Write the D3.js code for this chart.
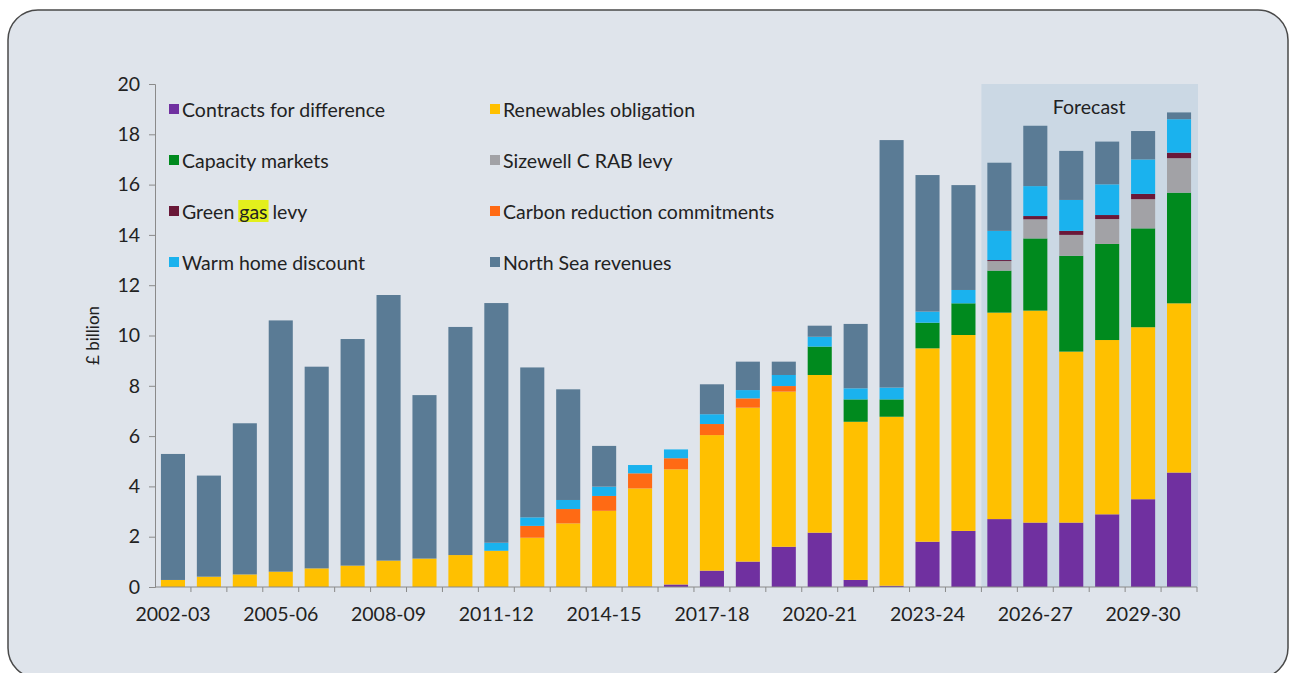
<!DOCTYPE html>
<html>
<head>
<meta charset="utf-8">
<script src="https://cdn.jsdelivr.net/npm/d3@7"></script>
<style>
  html, body { margin: 0; padding: 0; background: #ffffff; }
  svg { display: block; }
  text { font-family: "Lato", "Noto Sans", sans-serif; fill: #222222; }
</style>
</head>
<body>
<svg id="chart" width="1290" height="673"></svg>
<script>
// Financial years
const years = [
  "2002-03","2003-04","2004-05","2005-06","2006-07","2007-08","2008-09","2009-10",
  "2010-11","2011-12","2012-13","2013-14","2014-15","2015-16","2016-17","2017-18",
  "2018-19","2019-20","2020-21","2021-22","2022-23","2023-24","2024-25","2025-26",
  "2026-27","2027-28","2028-29","2029-30","2030-31"
];
const tickYears = ["2002-03","2005-06","2008-09","2011-12","2014-15","2017-18","2020-21","2023-24","2026-27","2029-30"];
const forecastFrom = "2025-26";

// £ billion, one value per year
const contractsForDifference = [0,0,0,0,0,0,0,0,0,0,0,0,0,0.02,0.10,0.65,1.01,1.60,2.16,0.28,0.05,1.80,2.23,2.70,2.56,2.56,2.89,3.49,4.55];
const renewablesObligation   = [0.28,0.41,0.50,0.61,0.74,0.85,1.05,1.13,1.27,1.44,1.96,2.53,3.03,3.90,4.58,5.39,6.12,6.17,6.27,6.29,6.72,7.69,7.79,8.21,8.43,6.80,6.93,6.84,6.73];
const capacityMarkets        = [0,0,0,0,0,0,0,0,0,0,0,0,0,0,0,0,0,0,1.13,0.89,0.69,1.02,1.26,1.67,2.87,3.81,3.82,3.93,4.40];
const sizewellCRabLevy       = [0,0,0,0,0,0,0,0,0,0,0,0,0,0,0,0,0,0,0,0,0,0,0,0.38,0.76,0.83,0.99,1.16,1.37];
const greenGasLevy           = [0,0,0,0,0,0,0,0,0,0,0,0,0,0,0,0,0,0,0,0,0,0,0,0.04,0.13,0.16,0.16,0.21,0.22];
const carbonReduction        = [0,0,0,0,0,0,0,0,0,0,0.47,0.57,0.59,0.60,0.44,0.44,0.37,0.22,0,0,0,0,0,0,0,0,0,0,0];
const warmHomeDiscount       = [0,0,0,0,0,0,0,0,0,0.32,0.34,0.36,0.37,0.33,0.35,0.39,0.33,0.44,0.39,0.44,0.47,0.44,0.53,1.16,1.19,1.23,1.22,1.37,1.33];
const northSeaRevenues       = [5.01,4.02,6.01,9.99,8.02,9.01,10.56,6.50,9.07,9.53,5.96,4.40,1.62,0,0,1.19,1.13,0.53,0.44,2.56,9.84,5.43,4.17,2.71,2.40,1.95,1.70,1.13,0.27];

const yTicks = [0,2,4,6,8,10,12,14,16,18,20];

// Stack order, bottom to top
const series = [
  { key: "cfd",  name: "Contracts for difference",    values: contractsForDifference, color: "#7030a0" },
  { key: "ro",   name: "Renewables obligation",       values: renewablesObligation,   color: "#ffc000" },
  { key: "cm",   name: "Capacity markets",            values: capacityMarkets,        color: "#008a1e" },
  { key: "szc",  name: "Sizewell C RAB levy",         values: sizewellCRabLevy,       color: "#a2a2a6" },
  { key: "ggl",  name: "Green gas levy",              values: greenGasLevy,           color: "#6a1838" },
  { key: "crc",  name: "Carbon reduction commitments",values: carbonReduction,        color: "#ff6a14" },
  { key: "whd",  name: "Warm home discount",          values: warmHomeDiscount,       color: "#1ab2ee" },
  { key: "ns",   name: "North Sea revenues",          values: northSeaRevenues,       color: "#5a7b95" }
];

// Legend layout: two columns, four rows
const legendLeft  = ["cfd","cm","ggl","whd"];
const legendRight = ["ro","szc","crc","ns"];

const FONT = "19.5px";

const svg = d3.select("#chart");

// Rounded panel
svg.append("rect")
  .attr("x", 8).attr("y", 10)
  .attr("width", 1280).attr("height", 668)
  .attr("rx", 30).attr("ry", 30)
  .attr("fill", "#dfe4eb")
  .attr("stroke", "#4a4a4a")
  .attr("stroke-width", 1.5);

const margin = { left: 155, right: 1197, top: 84, bottom: 587 };

const x = d3.scaleBand()
  .domain(years)
  .range([margin.left, margin.right])
  .paddingInner(0.33)
  .paddingOuter(0.165);

const y = d3.scaleLinear()
  .domain([0, 20])
  .range([margin.bottom, margin.top]);

// Forecast shading
const fx0 = x(forecastFrom) - x.step() * x.paddingInner() / 2;
svg.append("rect")
  .attr("x", fx0)
  .attr("y", y(20))
  .attr("width", margin.right + 1 - fx0)
  .attr("height", y(0) - y(20))
  .attr("fill", "#cbd8e4");

svg.append("text")
  .attr("x", (fx0 + margin.right) / 2)
  .attr("y", y(19.1))
  .attr("text-anchor", "middle")
  .attr("dominant-baseline", "central")
  .style("font-size", FONT)
  .text("Forecast");

// Stacked bars
const rows = years.map((yr, i) => {
  const r = { year: yr };
  series.forEach(s => { r[s.key] = s.values[i]; });
  return r;
});
const stack = d3.stack().keys(series.map(s => s.key));
const layers = stack(rows);

const g = svg.append("g");
layers.forEach((layer, li) => {
  g.append("g")
    .attr("fill", series[li].color)
    .selectAll("rect")
    .data(layer.filter(d => d[1] - d[0] > 0))
    .join("rect")
      .attr("x", d => x(d.data.year))
      .attr("width", x.bandwidth())
      .attr("y", d => y(d[1]))
      .attr("height", d => y(d[0]) - y(d[1]));
});

// Y axis
const yAxis = d3.axisLeft(y).tickValues(yTicks).tickSize(6).tickPadding(9);
const yg = svg.append("g")
  .attr("transform", `translate(${margin.left},0)`)
  .call(yAxis);
yg.select(".domain").attr("stroke", "#8a8a8a");
yg.selectAll(".tick line").attr("stroke", "#8a8a8a");
yg.selectAll(".tick text")
  .style("font-size", FONT)
  .style("font-family", "Lato, 'Noto Sans', sans-serif")
  .attr("fill", "#222222");

svg.append("text")
  .attr("transform", `translate(92,${y(10)}) rotate(-90)`)
  .attr("text-anchor", "middle")
  .attr("dominant-baseline", "central")
  .style("font-size", "17px")
  .text("£ billion");

// X axis: baseline, ticks at band boundaries, labels every third year
svg.append("line")
  .attr("x1", margin.left).attr("x2", margin.right)
  .attr("y1", y(0)).attr("y2", y(0))
  .attr("stroke", "#8a8a8a");

const boundaries = years.map(yr => x(yr) - x.step() * x.paddingInner() / 2).slice(1)
  .concat([margin.right]);
svg.append("g").selectAll("line")
  .data(boundaries)
  .join("line")
    .attr("x1", d => d).attr("x2", d => d)
    .attr("y1", y(0)).attr("y2", y(0) + 5)
    .attr("stroke", "#8a8a8a");

svg.append("g").selectAll("text")
  .data(tickYears)
  .join("text")
    .attr("x", d => x(d) + x.bandwidth() / 2)
    .attr("y", y(0) + 26)
    .attr("text-anchor", "middle")
    .attr("dominant-baseline", "central")
    .style("font-size", FONT)
    .text(d => d);

// Legend
const byKey = Object.fromEntries(series.map(s => [s.key, s]));
function legendColumn(keys, x0) {
  keys.forEach((k, i) => {
    const s = byKey[k];
    const cy = 109 + i * 51;
    const item = svg.append("g");
    item.append("rect")
      .attr("x", x0).attr("y", cy - 5)
      .attr("width", 10).attr("height", 10)
      .attr("fill", s.color);
    const t = item.append("text")
      .attr("x", x0 + 13)
      .attr("y", cy)
      .attr("dominant-baseline", "central")
      .style("font-size", FONT)
      .text(s.name);
    if (k === "ggl") {
      // highlight behind the word "gas"
      const node = t.node();
      const start = node.getSubStringLength(0, 6);
      const w = node.getSubStringLength(6, 3);
      item.insert("rect", "text")
        .attr("x", x0 + 13 + start - 1)
        .attr("y", cy - 11)
        .attr("width", w + 2)
        .attr("height", 22)
        .attr("fill", "#e3ef1c");
    }
  });
}
legendColumn(legendLeft, 169);
legendColumn(legendRight, 490);
</script>
</body>
</html>
